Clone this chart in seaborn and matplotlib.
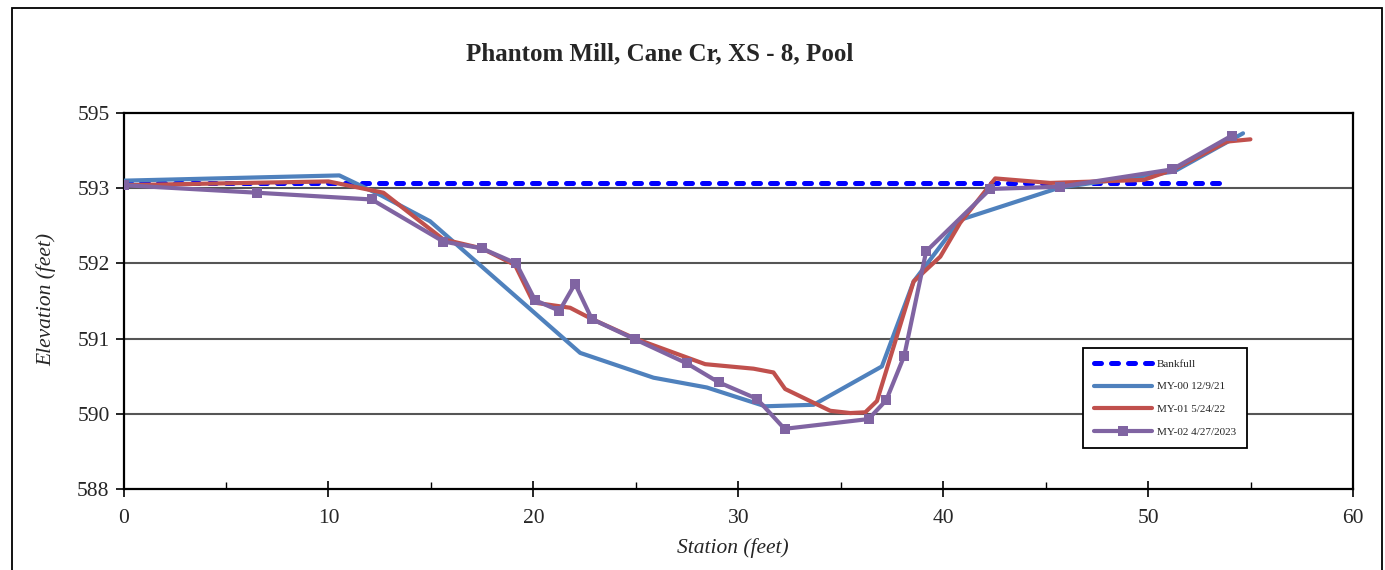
import matplotlib
matplotlib.use("Agg")
import matplotlib.pyplot as plt
import seaborn as sns
import pandas as pd
from matplotlib.patches import Rectangle
from matplotlib.ticker import FixedLocator, FixedFormatter, MultipleLocator

# ---------------- data ----------------
bank_x = [0.0, 53.8]
bank_y = [593.07, 593.07]

my00_x = [0.0, 10.53, 12.6, 14.96, 22.28, 25.86, 28.46, 31.31, 33.67, 37.0, 38.55, 40.83, 45.7, 51.24, 54.62]
my00_y = [593.10, 593.17, 592.90, 592.56, 590.81, 590.48, 590.35, 590.10, 590.12, 590.63, 591.76, 592.58, 593.01, 593.22, 593.73]

my01_x = [0.0, 10.0, 12.68, 15.6, 17.48, 19.1, 20.0, 21.79, 22.85, 24.96, 28.38, 30.74, 31.71, 32.28, 34.48,
          35.46, 36.19, 36.76, 38.55, 39.85, 40.82, 42.53, 45.21, 49.77, 51.24, 53.84, 54.98]
my01_y = [593.04, 593.09, 592.94, 592.32, 592.20, 591.98, 591.48, 591.41, 591.26, 591.0, 590.66, 590.60, 590.55, 590.33, 590.04,
          590.01, 590.02, 590.17, 591.76, 592.09, 592.54, 593.13, 593.07, 593.11, 593.25, 593.62, 593.65]

my02_x = [0.0, 6.5, 12.11, 15.61, 17.48, 19.16, 20.08, 21.27, 22.03, 22.85, 24.96, 27.49, 29.03, 30.9, 32.25,
          36.35, 37.21, 38.09, 39.16, 42.29, 45.7, 51.16, 54.08]
my02_y = [593.04, 592.94, 592.85, 592.29, 592.20, 592.0, 591.51, 591.37, 591.73, 591.26, 590.99, 590.67, 590.42, 590.20, 589.80,
          589.93, 590.18, 590.77, 592.16, 592.99, 593.02, 593.25, 593.70]

labels = ["Bankfull", "MY-00 12/9/21", "MY-01 5/24/22", "MY-02 4/27/2023"]
y_tick_pos = [589, 590, 591, 592, 593, 594]
y_tick_labels = ["588", "590", "591", "592", "593", "595"]
x_ticks = [0, 10, 20, 30, 40, 50, 60]

title = "Phantom Mill, Cane Cr, XS - 8, Pool"
xlabel = "Station (feet)"
ylabel = "Elevation (feet)"

# ---------------- style ----------------
sns.set_style("white")
plt.rcParams["font.family"] = ["Liberation Serif", "DejaVu Serif"]

W, H = 1385, 570
fig = plt.figure(figsize=(W / 100, H / 100), dpi=100)
ax = fig.add_axes([123.5 / W, 1 - 489 / H, (1353.3 - 123.5) / W, (489 - 113) / H])

# outer frame
fig.patches.append(Rectangle((12 / W, -0.1), (1382 - 12) / W, 1.1 - 8 / H,
                             transform=fig.transFigure, fill=False, edgecolor="black", lw=1.3))

# grid lines
for yv in [590, 591, 592, 593]:
    ax.axhline(yv, color="#555555", lw=1.5, zorder=1)

df_bank = pd.DataFrame({"x": bank_x, "y": bank_y})
df0 = pd.DataFrame({"x": my00_x, "y": my00_y})
df1 = pd.DataFrame({"x": my01_x, "y": my01_y})
df2 = pd.DataFrame({"x": my02_x, "y": my02_y})

sns.lineplot(data=df_bank, x="x", y="y", ax=ax, sort=False, estimator=None, color="#0000FF",
             lw=3.6, linestyle=(0, (1.4, 2.0)), dash_capstyle="round", label=labels[0], zorder=3)
sns.lineplot(data=df0, x="x", y="y", ax=ax, sort=False, estimator=None, color="#4F81BD",
             lw=3.0, label=labels[1], zorder=4)
sns.lineplot(data=df1, x="x", y="y", ax=ax, sort=False, estimator=None, color="#C0504D",
             lw=3.0, label=labels[2], zorder=5)
sns.lineplot(data=df2, x="x", y="y", ax=ax, sort=False, estimator=None, color="#8064A2",
             lw=3.0, marker="s", markersize=7.5, markeredgewidth=0, label=labels[3], zorder=6)

ax.set_xlim(0, 60)
ax.set_ylim(589, 594)
ax.xaxis.set_major_locator(FixedLocator(x_ticks))
ax.xaxis.set_minor_locator(MultipleLocator(5))
ax.yaxis.set_major_locator(FixedLocator(y_tick_pos))
ax.yaxis.set_major_formatter(FixedFormatter(y_tick_labels))

for s in ax.spines.values():
    s.set_color("black")
    s.set_linewidth(1.6)
    s.set_visible(True)

ax.tick_params(axis="x", which="major", direction="inout", length=11, width=1.2, color="black",
               labelsize=15.5, pad=9, bottom=True)
ax.tick_params(axis="x", which="minor", direction="in", length=5, width=1.0, color="black", bottom=True)
ax.tick_params(axis="y", which="major", direction="out", length=6, width=1.2, color="black",
               labelsize=15.5, pad=4, left=True)

ax.set_xlabel("")
ax.set_ylabel("")
fig.text(733 / W, 1 - 548 / H, xlabel, ha="center", va="center", fontsize=15.5, style="italic")
fig.text(46 / W, 1 - 300 / H, ylabel, ha="center", va="center", fontsize=15.5, style="italic", rotation=90)
fig.text(660 / W, 1 - 54 / H, title, ha="center", va="center", fontsize=18, fontweight="bold")

leg = ax.legend(loc="lower left", bbox_to_anchor=(0.780, 0.110), fontsize=8, frameon=True,
                fancybox=False, shadow=False, framealpha=1, edgecolor="black",
                handlelength=5.2, handletextpad=0.45, labelspacing=1.15, borderpad=1.0,
                borderaxespad=0.0)
leg.get_frame().set_linewidth(1.3)

fig.savefig("out.png", dpi=100)
